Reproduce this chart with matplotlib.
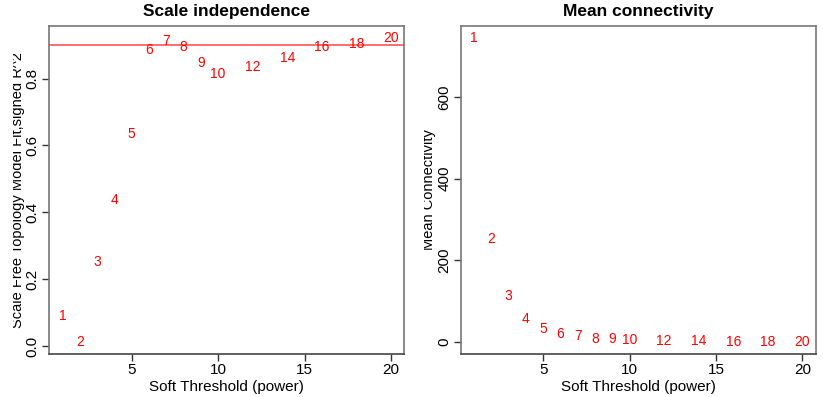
import matplotlib
matplotlib.use('Agg')
import matplotlib.pyplot as plt
from matplotlib.transforms import Bbox

# powers shown in the soft-threshold scan
powers = [1, 2, 3, 4, 5, 6, 7, 8, 9, 10, 12, 14, 16, 18, 20]
# signed R^2 of the scale-free fit
sft_r2 = [0.09, 0.013, 0.253, 0.437, 0.635, 0.885, 0.912, 0.893, 0.845, 0.815,
          0.835, 0.862, 0.895, 0.903, 0.922]
# mean connectivity
mean_k = [745, 252, 112, 55, 32, 20, 14, 8, 6, 5, 2, 1, 0.6, 0.4, 0.3]
r2_cut = 0.90

W, H = 823, 397
plt.rcParams['font.family'] = ['Liberation Sans', 'DejaVu Sans']
fig = plt.figure(figsize=(W / 100, H / 100), dpi=100)


def px_axes(x0, x1, top, bottom):
    return fig.add_axes([x0 / W, 1 - bottom / H, (x1 - x0) / W, (bottom - top) / H])


def style(ax, xlim, ylim, yticks, yfmt):
    ax.set_xlim(xlim)
    ax.set_ylim(ylim)
    ax.set_xticks([5, 10, 15, 20])
    ax.set_yticks(yticks)
    ax.set_yticklabels([yfmt % v for v in yticks])
    ax.tick_params(axis='both', direction='out', length=5, width=1, color='#333333',
                   labelsize=11, pad=2)
    ax.tick_params(axis='y', labelrotation=90)
    for lab in ax.get_yticklabels():
        lab.set_va('center')
    for side in ['top', 'right', 'left']:
        ax.spines[side].set_color('#777777')
    ax.spines['bottom'].set_color('#444444')
    for s in ax.spines.values():
        s.set_linewidth(1.2)
    ax.set_xlabel('Soft Threshold (power)', fontsize=11, labelpad=2)


ax1 = px_axes(49.3, 404.3, 26, 353.5)
style(ax1, (0.24, 20.76), (-0.022, 0.957), [0.0, 0.2, 0.4, 0.6, 0.8], '%.1f')
ax1.axhline(r2_cut, color='#ff6262', lw=1.3)
for p, v in zip(powers, sft_r2):
    ax1.text(p, v, str(p), color='red', fontsize=10, ha='center', va='center')
ax1.set_title('Scale independence', fontsize=12.5, fontweight='bold', pad=7.5)

ax2 = px_axes(461, 815.5, 26, 353.5)
style(ax2, (0.24, 20.76), (-28.8, 774.8), [0, 200, 400, 600], '%d')
for p, v in zip(powers, mean_k):
    ax2.text(p, v, str(p), color='red', fontsize=10, ha='center', va='center')
ax2.set_title('Mean connectivity', fontsize=12.5, fontweight='bold', pad=7.5)

# y labels, clipped at the panel edge like the original
t1 = fig.text(21.7 / W, 1 - 190 / H, 'Scale Free Topology Model Fit,signed R^2',
              rotation=90, rotation_mode='anchor', ha='center', va='baseline', fontsize=10.5)
t1.set_clip_box(Bbox.from_extents(12.5, 0, 411, H))
t1.set_clip_on(True)
t2 = fig.text(433 / W, 1 - 190 / H, 'Mean Connectivity',
              rotation=90, rotation_mode='anchor', ha='center', va='baseline', fontsize=10.5)
t2.set_clip_box(Bbox.from_extents(423.5, 0, W, H))
t2.set_clip_on(True)

fig.savefig('out.png', dpi=100)
